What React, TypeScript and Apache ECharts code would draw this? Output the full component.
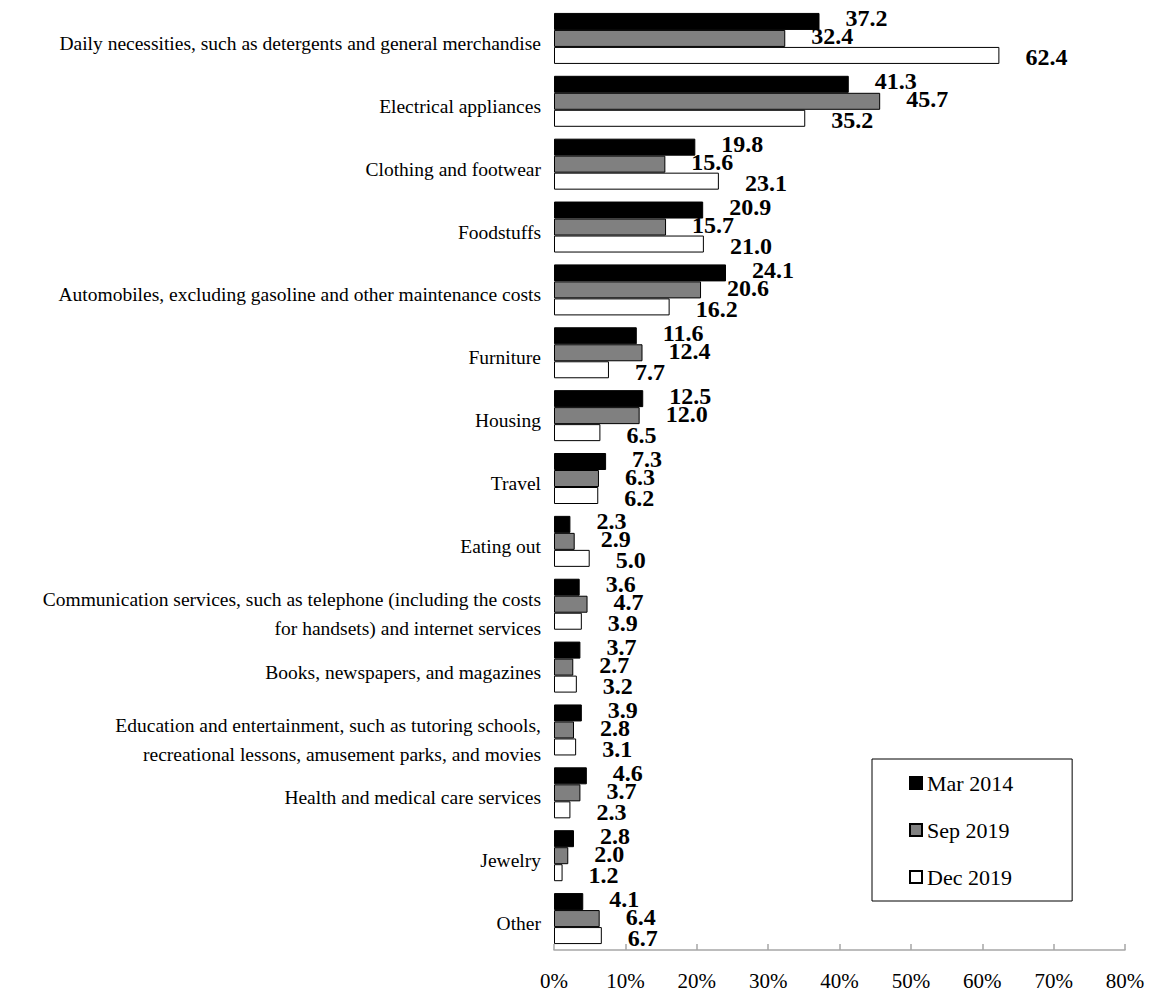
import React, { useEffect, useRef } from "react";
import * as echarts from "echarts";

const categories = [
  "Daily necessities, such as detergents and general merchandise",
  "Electrical appliances",
  "Clothing and footwear",
  "Foodstuffs",
  "Automobiles, excluding gasoline and other maintenance costs",
  "Furniture",
  "Housing",
  "Travel",
  "Eating out",
  "Communication services, such as telephone (including the costs\nfor handsets) and internet services",
  "Books, newspapers, and magazines",
  "Education and entertainment, such as tutoring schools,\nrecreational lessons, amusement parks, and movies",
  "Health and medical care services",
  "Jewelry",
  "Other",
];

const seriesNames = ["Mar 2014", "Sep 2019", "Dec 2019"];

const mar2014 = [37.2, 41.3, 19.8, 20.9, 24.1, 11.6, 12.5, 7.3, 2.3, 3.6, 3.7, 3.9, 4.6, 2.8, 4.1];
const sep2019 = [32.4, 45.7, 15.6, 15.7, 20.6, 12.4, 12.0, 6.3, 2.9, 4.7, 2.7, 2.8, 3.7, 2.0, 6.4];
const dec2019 = [62.4, 35.2, 23.1, 21.0, 16.2, 7.7, 6.5, 6.2, 5.0, 3.9, 3.2, 3.1, 2.3, 1.2, 6.7];

const xTicks = [0, 10, 20, 30, 40, 50, 60, 70, 80];

const FONT = "'Liberation Serif', 'Times New Roman', serif";

export default function App() {
  const ref = useRef<HTMLDivElement>(null);

  useEffect(() => {
    document.body.style.margin = "0";
    if (!ref.current) return;
    const chart = echarts.init(ref.current, undefined, { renderer: "svg" });

    const colors = ["#000000", "#808080", "#ffffff"];
    const offsets = [[0, -3], [0, -2], [0, 2]];
    const datasets = [mar2014, sep2019, dec2019];

    chart.setOption({
      animation: false,
      backgroundColor: "#ffffff",
      grid: { left: 554, right: 28, top: 7, bottom: 41, containLabel: false },
      legend: {
        orient: "vertical",
        left: 872,
        top: 759,
        padding: [13, 59, 13, 37],
        borderColor: "#000",
        borderWidth: 1,
        itemWidth: 12,
        itemHeight: 12,
        itemGap: 25,
        icon: "rect",
        data: seriesNames,
        textStyle: { fontSize: 22, fontFamily: FONT, color: "#000", lineHeight: 22 },
      },
      xAxis: {
        type: "value",
        min: xTicks[0],
        max: xTicks[xTicks.length - 1],
        interval: xTicks[1] - xTicks[0],
        axisLine: { show: true, lineStyle: { color: "#a6a6a6", width: 1.5 } },
        axisTick: { show: true, inside: true, length: 6, lineStyle: { color: "#a6a6a6", width: 1.5 } },
        splitLine: { show: false },
        axisLabel: {
          formatter: "{value}%",
          fontSize: 21,
          fontFamily: FONT,
          color: "#000",
          margin: 20,
        },
      },
      yAxis: {
        type: "category",
        inverse: true,
        data: categories,
        axisLine: { show: false },
        axisTick: { show: false },
        axisLabel: {
          fontSize: 19.5,
          fontFamily: FONT,
          color: "#000",
          margin: 13,
          align: "right",
          formatter: (v: string) => {
            const lines = v.split("\n");
            const head = lines.length > 1 ? "{s2| }" : "{s1| }";
            return head + "\n" + lines.map((l) => "{a|" + l + "}").join("\n");
          },
          rich: {
            s1: { fontSize: 2, lineHeight: 10 },
            s2: { fontSize: 2, lineHeight: 20 },
            a: { fontSize: 19.5, fontFamily: FONT, color: "#000", lineHeight: 29 },
          },
        },
      },
      series: datasets.map((d, i) => ({
        name: seriesNames[i],
        type: "bar",
        data: d,
        barWidth: 17,
        barGap: "0%",
        itemStyle: { color: colors[i], borderColor: "#000", borderWidth: 1 },
        label: {
          show: true,
          position: "right",
          distance: 26,
          offset: offsets[i],
          fontSize: 24,
          fontWeight: "bold",
          fontFamily: FONT,
          color: "#000",
          formatter: (p: any) => Number(p.value).toFixed(1),
        },
      })),
    });

    return () => chart.dispose();
  }, []);

  return (
    <div
      ref={ref}
      style={{ position: "absolute", left: 0, top: 0, width: 1153, height: 991 }}
    />
  );
}
